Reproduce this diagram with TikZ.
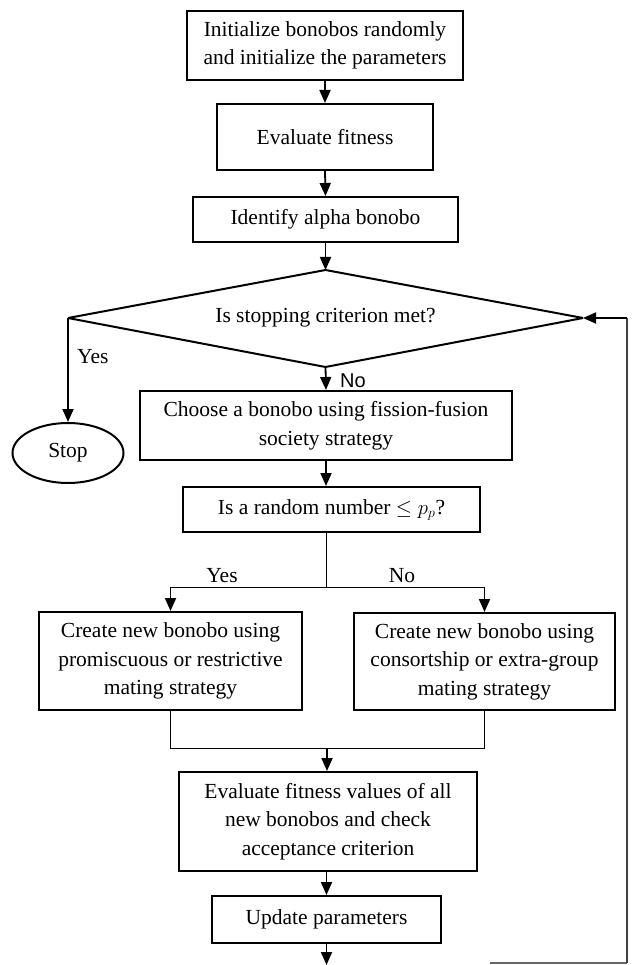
\documentclass[tikz,border=0pt]{standalone}
\usepackage{fontspec}
\setmainfont{Liberation Serif}
\newfontfamily\sansf{Liberation Sans}
\usetikzlibrary{arrows.meta,shapes.geometric}
\begin{document}
\begin{tikzpicture}[x=1pt,y=-1pt,
  every node/.style={font=\fontsize{21.5}{28.5}\selectfont},
  box/.style={draw,line width=2pt,rectangle,inner sep=0pt,align=center},
  conn/.style={line width=1.8pt,-{Triangle[length=13pt,width=11pt]}},
  thin/.style={line width=1pt},
  lbl/.style={inner sep=0pt}]
\useasboundingbox (0,0) rectangle (635,965);
\node[box,minimum width=276pt,minimum height=69pt] (b1) at (325,45.5) {Initialize bonobos randomly\\and initialize the parameters};
\node[box,minimum width=216pt,minimum height=66pt] (b2) at (325,137) {Evaluate fitness};
\node[box,minimum width=265pt,minimum height=45pt] (b3) at (325.5,219.5) {Identify alpha bonobo};
\coordinate (dN) at (325.5,270);
\coordinate (dS) at (325.5,367);
\coordinate (dW) at (68,318);
\coordinate (dE) at (583,318);
\draw[line width=2pt,line join=bevel] (dN) -- (dE) -- (dS) -- (dW) -- cycle;
\node[lbl] (dtext) at (325.5,318) {Is stopping criterion met?};
\node[draw,line width=2pt,ellipse,inner sep=0pt,minimum width=111pt,minimum height=60pt] (stop) at (68,453) {Stop};
\node[box,minimum width=372pt,minimum height=69pt] (choose) at (326,425.5) {Choose a bonobo using fission-fusion\\society strategy};
\node[box,minimum width=297pt,minimum height=45pt] (rnd) at (331.5,509.5) {Is a random number $\leq p_p$?};
\node[box,minimum width=263pt,minimum height=98pt] (cl) at (170.5,661) {Create new bonobo using\\promiscuous or restrictive\\mating strategy};
\node[box,minimum width=261pt,minimum height=97pt] (cr) at (484.5,661.5) {Create new bonobo using\\consortship or extra-group\\mating strategy};
\node[box,minimum width=298pt,minimum height=99pt] (ev) at (328,821.5) {Evaluate fitness values of all\\new bonobos and check\\acceptance criterion};
\node[box,minimum width=229pt,minimum height=47pt] (up) at (326.5,919.5) {Update parameters};
\coordinate (split) at (326,587);
\coordinate (merge) at (327,748);
\coordinate (endp) at (326.5,965);
\coordinate (lb) at (490,963);
\coordinate (lr) at (627,963);
\draw[conn] (b1.south) -- (b2.north);
\draw[conn] (b2.south) -- (b3.north);
\draw[conn] (b3.south) -- (dN);
\draw[conn] (dW) -- (stop.north);
\node[lbl,anchor=west] (yes1) at (77,357) {Yes};
\draw[conn] (dS) -- (choose.north);
\node[lbl,anchor=west,font=\sansf\fontsize{20}{24}\selectfont] (no1) at (340,381) {No};
\draw[conn] (choose.south) -- (choose.south |- rnd.north);
\draw[thin] (rnd.south -| split) -- (split);
\draw[thin] (split -| cl.north) -- (split -| cr.north);
\draw[conn] (split -| cl.north) -- (cl.north);
\draw[conn] (split -| cr.north) -- (cr.north);
\node[lbl] (yes2) at (222,576) {Yes};
\node[lbl] (no2) at (402,576) {No};
\draw[thin] (cl.south) -- (merge -| cl.south) -- (merge -| cr.south) -- (cr.south);
\draw[conn] (merge) -- (merge |- ev.north);
\draw[conn] (ev.south -| up.north) -- (up.north);
\draw[conn] (up.south) -- (endp);
\draw[line width=1.3pt,black!60] (lb) -- (lr);
\draw[line width=1.3pt,black!75] (lr) -- (lr |- dE);
\draw[conn] (lr |- dE) -- (dE);
\end{tikzpicture}
\end{document}
